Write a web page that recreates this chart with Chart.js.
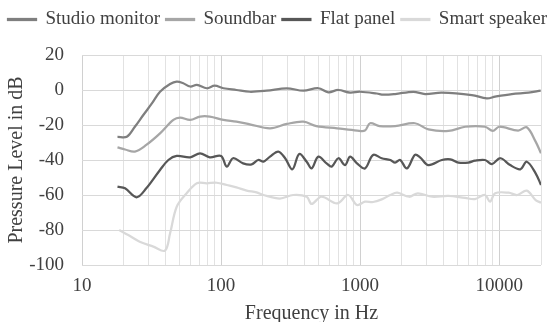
<!DOCTYPE html>
<html lang="en">
<head>
  <meta charset="utf-8" />
  <title>Pressure level vs frequency</title>
  <script src="https://cdn.jsdelivr.net/npm/chart.js@4.4.1/dist/chart.umd.min.js"></script>
  <style>
    html, body { margin: 0; padding: 0; background: #fff; }
    #wrap { width: 555px; height: 322px; }
  </style>
</head>
<body>
  <div id="wrap"><canvas id="c"></canvas></div>
  <script>
    // values (Hz, dB)
    const seriesNames = ['Studio monitor', 'Soundbar', 'Flat panel', 'Smart speaker'];
    const seriesColors = ['#7f7f7f', '#a6a6a6', '#575757', '#d9d9d9'];

    const monitorHz = [18, 21, 24, 27.6, 32, 36.4, 43, 48, 53, 60, 67, 79, 90, 104, 129, 161, 213, 297, 391, 501, 591, 698, 847, 1000, 1318, 1472, 1786, 2417, 2935, 3870, 6360, 8160, 9360, 12330, 16250, 19900];
    const monitorDb = [-26.8, -26.7, -21, -14.3, -7.4, -1, 3.4, 4.8, 4, 2, 2.9, 1, 2.5, 1, 0, -1, -0.4, 1, -0.4, 1, -1.3, 0, -1.5, -1, -2, -2.7, -2.3, -1, -2.3, -1.5, -2.9, -4.8, -3.8, -2.3, -1.5, -0.4];

    const soundbarHz = [18, 20.4, 24, 29, 36.4, 45.4, 50.7, 60, 70.6, 83, 104, 129, 161, 225, 297, 391, 485, 684, 952, 1083, 1180, 1380, 1786, 2480, 3100, 4320, 5700, 7900, 9000, 10000, 13700, 15800, 18300, 20000];
    const soundbarDb = [-32.8, -34, -35.2, -31.4, -24.8, -17.1, -15.8, -17.1, -15.2, -15.2, -17.1, -18.1, -19.6, -21.9, -19.4, -18.1, -20.6, -21.9, -23.2, -23.2, -19, -20.6, -20.6, -19, -22.5, -23.4, -21, -21, -23.4, -21, -23.2, -21.3, -29.5, -36.2];

    const flatHz = [18, 20.4, 24.7, 29, 36.4, 41.8, 48, 60, 70.6, 83, 100, 110, 122, 144, 166, 185, 202, 225, 258, 289, 326, 365, 413, 448, 501, 574, 625, 698, 780, 847, 950, 1083, 1240, 1430, 1650, 1786, 1940, 2170, 2480, 2700, 3100, 3870, 4460, 5100, 6000, 6700, 7900, 8880, 10200, 12000, 14200, 15800, 18300, 20000];
    const flatDb = [-55.2, -56.2, -61.3, -56.2, -45.7, -40, -37.7, -38.5, -36.2, -38.5, -37.7, -43.8, -39, -41.9, -42.5, -40, -40.9, -38.1, -35.2, -39, -45.3, -36.6, -41, -44.8, -38.1, -41.9, -43.8, -39, -42.9, -38.1, -41.9, -44.8, -37.1, -39, -40, -41.5, -40, -44.8, -37.1, -38.5, -42.9, -40, -39.6, -41.5, -41.5, -40.4, -40, -42.3, -39, -42.9, -45.3, -41, -47.6, -54.3];

    const smartHz = [18.5, 21.5, 26, 32.6, 39.5, 43, 48, 56.6, 67, 79, 93, 110, 129, 153, 180, 202, 265, 330, 413, 448, 527, 684, 820, 950, 1083, 1240, 1430, 1650, 1850, 2250, 2600, 3300, 4320, 5700, 6700, 7900, 8600, 9360, 11700, 13500, 15800, 18300, 20000];
    const smartDb = [-80, -82.9, -86.7, -89.5, -91.8, -81.9, -66.7, -59, -53.3, -53.3, -53, -54.3, -55.6, -57.5, -58.5, -60, -62, -60, -61, -65.1, -61, -64.8, -60, -65.7, -63.8, -64, -62.5, -60, -58.7, -61, -59, -61, -60.5, -61.7, -62.3, -60, -63.8, -59, -58.7, -60, -57.5, -62.9, -64.4];

    const yTicks = [-100, -80, -60, -40, -20, 0, 20];
    const xLabelTicks = [10, 100, 1000, 10000];

    const hz = [monitorHz, soundbarHz, flatHz, smartHz];
    const db = [monitorDb, soundbarDb, flatDb, smartDb];

    const serif = 'Liberation Serif, Times New Roman, serif';
    const textColor = '#404040';

    function points(xs, ys) {
      return xs.map((x, i) => ({ x, y: ys[i] }));
    }

    // log gridlines: 10,20,...,90,100,200,... up to 20000
    function logGridValues(min, max) {
      const out = [];
      for (let d = min; d < max; d *= 10) {
        for (let m = 1; m < 10; m++) {
          const v = d * m;
          if (v <= max) out.push(v);
        }
      }
      if (out[out.length - 1] !== max) out.push(max);
      return out;
    }

    const datasets = seriesNames.map((name, i) => ({
      label: name,
      data: points(hz[i], db[i]),
      borderColor: seriesColors[i],
      backgroundColor: seriesColors[i],
      borderWidth: 2.25,
      pointRadius: 0,
      tension: 0.35,
      fill: false,
    }));

    // extra room under the legend row
    const legendGap = {
      id: 'legendGap',
      beforeInit(chart) {
        const fit = chart.legend.fit;
        chart.legend.fit = function () {
          fit.bind(chart.legend)();
          this.height += 16;
        };
      },
    };

    new Chart(document.getElementById('c'), {
      type: 'line',
      data: { datasets },
      plugins: [legendGap],
      options: {
        responsive: true,
        maintainAspectRatio: false,
        animation: false,
        layout: { padding: { left: 0, right: 0, top: 4, bottom: 0 } },
        plugins: {
          legend: {
            position: 'top',
            labels: {
              color: textColor,
              font: { family: serif, size: 19 },
              boxWidth: 28,
              boxHeight: 1,
              padding: 6,
            },
          },
          tooltip: { enabled: false },
        },
        scales: {
          x: {
            type: 'logarithmic',
            min: 10,
            max: 20000,
            afterBuildTicks: (axis) => {
              axis.ticks = logGridValues(10, 20000).map((value) => ({ value }));
            },
            afterFit: (axis) => {
              axis.height = 57;
              axis.paddingRight = 14; // gap right of the plot
            },
            ticks: {
              autoSkip: false,
              maxRotation: 0,
              padding: 10,
              color: textColor,
              font: { family: serif, size: 19 },
              callback: (v) => (xLabelTicks.includes(v) ? String(v) : ''),
            },
            grid: {
              drawTicks: false,
              color: (ctx) => (ctx.tick && xLabelTicks.includes(ctx.tick.value) ? '#d0d0d0' : '#e2e2e2'),
            },
            border: { display: false },
            title: {
              display: true,
              text: 'Frequency in Hz',
              color: textColor,
              font: { family: serif, size: 20 },
              padding: { top: 0, bottom: -4 },
            },
          },
          y: {
            min: -100,
            max: 20,
            afterBuildTicks: (axis) => {
              axis.ticks = yTicks.map((value) => ({ value }));
            },
            afterFit: (axis) => { axis.width = 82; },
            ticks: {
              padding: 18,
              color: textColor,
              font: { family: serif, size: 19 },
            },
            grid: { drawTicks: false, color: '#d9d9d9' },
            border: { display: false },
            title: {
              display: true,
              text: 'Pressure Level in dB',
              color: textColor,
              font: { family: serif, size: 20 },
              padding: { top: 5, bottom: 1 },
            },
          },
        },
      },
    });
  </script>
</body>
</html>
